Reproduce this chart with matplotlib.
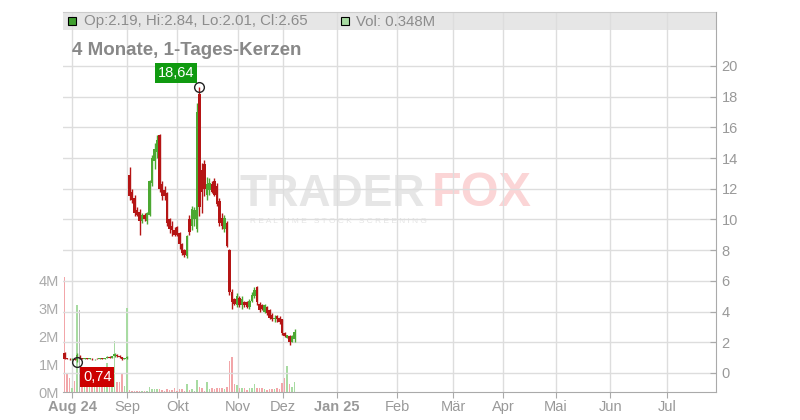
import matplotlib.pyplot as plt
from matplotlib.patches import Rectangle
import numpy as np

plt.rcParams['font.family'] = ['Liberation Sans', 'DejaVu Sans']

# daily candles, Aug 2024 - Dec 2024 (prices), volume in millions
opens = [1.30, 0.95, 0.93, 0.90, 0.92, 0.85, 1.00, 0.98, 0.94, 0.95, 0.92, 0.93, 0.90, 0.92, 0.90, 0.95,
         0.92, 0.98, 1.05, 1.00, 1.08, 1.20, 1.10, 1.02, 0.90, 0.97,
         12.9, 11.8, 11.4, 10.6, 10.5, 9.9, 10.3, 9.9, 10.3, 12.4, 13.8, 14.4, 15.5, 12.3, 11.9, 11.7,
         10.0, 9.6, 9.3, 9.5, 9.1, 8.4, 8.0, 7.6, 10.0, 9.6, 10.0, 9.4, 18.2, 13.2, 13.6, 11.6, 11.9,
         12.3, 12.5, 12.2, 11.2, 10.1, 9.4, 9.8, 8.0, 5.3, 4.8, 4.4, 4.9, 4.4, 4.6, 4.6, 4.3, 4.7, 5.0,
         5.6, 4.5, 4.4, 4.0, 4.3, 4.1, 3.8, 3.5, 3.7, 3.6, 3.5, 2.6, 2.3, 2.4, 2.05, 2.19]
highs = [1.39, 0.98, 0.96, 0.95, 0.94, 1.32, 1.20, 1.00, 0.97, 0.97, 0.95, 0.95, 0.94, 0.95, 0.96, 0.98,
         1.00, 1.08, 1.10, 1.12, 1.30, 1.22, 1.15, 1.05, 1.00, 1.10,
         13.4, 12.0, 11.6, 10.8, 10.7, 10.4, 10.4, 10.5, 12.6, 14.2, 15.0, 15.5, 15.6, 12.5, 12.2, 11.8,
         10.1, 9.9, 9.5, 9.6, 9.2, 8.5, 8.1, 9.0, 10.3, 10.9, 10.8, 17.6, 18.64, 13.7, 13.9, 12.8, 12.7,
         12.5, 12.7, 12.4, 11.4, 10.4, 10.3, 9.9, 8.1, 5.5, 4.9, 5.2, 5.0, 5.0, 4.7, 4.7, 4.8, 5.3, 5.6,
         5.7, 4.6, 4.5, 4.5, 4.35, 4.2, 3.9, 3.8, 3.8, 3.7, 3.55, 2.65, 2.5, 2.45, 2.5, 2.84]
lows = [0.88, 0.88, 0.86, 0.87, 0.85, 0.74, 0.88, 0.92, 0.90, 0.88, 0.88, 0.86, 0.87, 0.88, 0.88, 0.90,
        0.90, 0.95, 0.98, 0.97, 1.05, 1.05, 1.00, 0.85, 0.88, 0.93,
        11.3, 11.1, 10.2, 10.2, 9.0, 9.8, 9.9, 9.7, 10.2, 12.2, 13.3, 14.0, 11.8, 11.3, 11.3, 9.6,
        9.1, 8.9, 8.9, 8.9, 8.1, 7.7, 7.55, 7.5, 9.0, 9.3, 9.6, 9.2, 10.2, 10.4, 11.5, 11.3, 11.6,
        11.7, 11.5, 10.9, 9.6, 9.4, 9.2, 8.2, 5.1, 4.2, 4.4, 4.3, 4.3, 4.2, 4.3, 4.25, 4.2, 4.6, 4.9,
        4.4, 4.0, 4.1, 3.9, 3.8, 3.5, 3.4, 3.3, 3.3, 3.2, 2.5, 2.35, 2.25, 1.85, 2.0, 2.01]
closes = [0.92, 0.90, 0.88, 0.92, 0.87, 1.15, 1.00, 0.94, 0.95, 0.90, 0.93, 0.88, 0.92, 0.90, 0.95, 0.92,
          0.98, 1.05, 1.00, 1.08, 1.22, 1.08, 1.02, 0.88, 0.97, 1.05,
          11.5, 11.3, 10.4, 10.3, 9.9, 10.3, 10.0, 10.4, 12.5, 14.0, 14.6, 15.2, 12.0, 11.5, 11.5, 9.8,
          9.4, 9.3, 9.0, 9.0, 8.4, 7.8, 7.7, 8.9, 9.2, 10.7, 10.6, 17.0, 10.8, 11.8, 12.0, 12.3, 12.4,
          11.8, 11.6, 11.0, 9.8, 9.6, 10.1, 8.3, 5.3, 4.6, 4.5, 5.0, 4.4, 4.8, 4.4, 4.3, 4.7, 5.1, 5.4,
          4.6, 4.1, 4.2, 4.4, 3.9, 3.6, 3.5, 3.6, 3.5, 3.3, 2.6, 2.4, 2.45, 2.0, 2.4, 2.65]
volumes = [4.1, 0.68, 0.5, 0.15, 0.4, 3.1, 2.93, 0.45, 0.35, 0.3, 0.45, 0.3, 0.35, 0.25, 0.3, 0.4,
           0.3, 1.03, 0.45, 0.3, 1.82, 0.35, 0.35, 0.69, 0.2, 3.0,
           0.07, 0.05, 0.02, 0.03, 0.04, 0.02, 0.02, 0.02, 0.19, 0.12, 0.12, 0.12, 0.12, 0.08, 0.03, 0.12,
           0.08, 0.08, 0.15, 0.03, 0.12, 0.12, 0.03, 0.29, 0.08, 0.12, 0.05, 0.43, 0.19, 0.16, 0.05, 0.35,
           0.12, 0.15, 0.12, 0.15, 0.15, 0.16, 0.12, 0.19, 1.1, 1.26, 0.29, 0.26, 0.15, 0.15, 0.15, 0.08,
           0.15, 0.15, 0.29, 0.15, 0.16, 0.16, 0.12, 0.08, 0.12, 0.12, 0.12, 0.15, 0.12, 0.33, 0.51, 0.93,
           0.29, 0.19, 0.348]

month_labels = ['Aug 24', 'Sep', 'Okt', 'Nov', 'Dez', 'Jan 25', 'Feb', 'Mär', 'Apr', 'Mai', 'Jun', 'Jul']
month_pos = [3.1, 25.1, 45.1, 69.5, 87.5, 109, 133, 155.4, 175.4, 196.4, 218.4, 241]

o = np.array(opens)
h = np.array(highs)
l = np.array(lows)
c = np.array(closes)
v = np.array(volumes)
x = np.arange(len(c))

up = '#4ca832'
down = '#b51515'
cand_col = np.where(c > o, up, down)
vol_col = np.where(c > o, '#a8dba2', np.where(c < o, '#f2a6a9', '#b4b4b4'))

fig = plt.figure(figsize=(8, 4.2), dpi=100)
ax = fig.add_axes([63 / 800, 28 / 420, 653 / 800, 380 / 420])
ax.set_xlim(-0.6, 260.6)
ax.set_ylim(0, 380 / 28)
ax.set_axisbelow(True)

# legend band on top
ax.add_patch(Rectangle((0, 1 - 18 / 380), 1, 18 / 380, transform=ax.transAxes,
                       facecolor='#e6e6e6', edgecolor='none', zorder=0.1))

ax.bar(x, v, width=0.5, color=vol_col, zorder=1)
ax.grid(axis='x', color='#dddddd', lw=1)
ax.set_xticks(month_pos, month_labels)
ax.set_yticks([0, 1, 2, 3, 4], ['0M', '1M', '2M', '3M', '4M'])
ax.tick_params(axis='x', length=4, color='#aaaaaa', labelcolor='#999999', labelsize=10.5, pad=2)
ax.tick_params(axis='y', length=0, labelcolor='#aaaaaa', labelsize=10.5, pad=3)
for lbl in ax.get_xticklabels():
    if lbl.get_text() in ('Aug 24', 'Jan 25'):
        lbl.set_fontweight('bold')
ax.spines['left'].set_visible(False)
ax.spines['right'].set_visible(False)
ax.spines['top'].set_color('#cccccc')
ax.spines['bottom'].set_color('#aaaaaa')

# watermark
ax.text(240 / 800, 1 - 206 / 420, 'TRADER', transform=fig.transFigure, fontsize=32,
        fontweight='bold', color='#e6e6e6', zorder=0.2)
ax.text(432 / 800, 1 - 206 / 420, 'FOX', transform=fig.transFigure, fontsize=35,
        fontweight='bold', color='#fbd5d6', zorder=0.2)
ax.text(250 / 800, 1 - 223 / 420, 'R E A L T I M E   S T O C K   S C R E E N I N G',
        transform=fig.transFigure, fontsize=6, color='#e4e4e4', zorder=0.2)

ax2 = ax.twinx()
ax2.set_ylim(-19 / 15.35, 361 / 15.35)
ax2.set_axisbelow(True)
ax2.grid(axis='y', color='#dddddd', lw=1)
ax2.set_yticks(range(0, 21, 2))
ax2.tick_params(axis='y', direction='in', length=4, color='#aaaaaa', labelcolor='#999999',
                labelsize=10.5, pad=4)
for s in ('left', 'top', 'bottom'):
    ax2.spines[s].set_visible(False)
ax2.spines['right'].set_color('#aaaaaa')

ax2.vlines(x, l, h, colors=cand_col, lw=1, zorder=2)
body = np.maximum(np.abs(c - o), 0.04)
ax2.bar(x, body, bottom=np.minimum(o, c), width=0.85, color=cand_col, zorder=3)

# extreme markers
ih = int(np.argmax(h))
il = int(np.argmin(l))
ax2.plot([ih, il], [h[ih], l[il]], 'o', mfc='none', mec='#222222', ms=7, mew=1, zorder=4)
ax2.annotate(f'{h[ih]:.2f}'.replace('.', ','), (ih, h[ih]), xytext=(-5, 7),
             textcoords='offset pixels', ha='right', va='bottom', color='white', fontsize=10.5,
             bbox=dict(boxstyle='square,pad=0.2', fc='#109a10', ec='none'), zorder=5)
ax2.annotate(f'{l[il]:.2f}'.replace('.', ','), (il, l[il]), xytext=(6, -8),
             textcoords='offset pixels', ha='left', va='top', color='white', fontsize=10.5,
             bbox=dict(boxstyle='square,pad=0.2', fc='#cc0000', ec='none'), zorder=5)

# header texts
fig.add_artist(Rectangle((68 / 800, 1 - 25 / 420), 8 / 800, 8 / 420, transform=fig.transFigure,
                         facecolor='#3f9f2f', edgecolor='black', lw=0.8))
fig.text(84 / 800, 1 - 25.5 / 420,
         f'Op:{o[-1]:.2f}, Hi:{h[-1]:.2f}, Lo:{l[-1]:.2f}, Cl:{c[-1]:.2f}',
         fontsize=10.8, color='#8c8c8c', va='baseline')
fig.add_artist(Rectangle((341 / 800, 1 - 25 / 420), 8 / 800, 8 / 420, transform=fig.transFigure,
                         facecolor='#a8dba2', edgecolor='black', lw=0.8))
fig.text(356 / 800, 1 - 25.5 / 420, f'Vol: {v[-1]:.3f}M', fontsize=10.8, color='#8c8c8c',
         va='baseline')
fig.text(72 / 800, 1 - 55 / 420, '4 Monate, 1-Tages-Kerzen', fontsize=13.5, fontweight='bold',
         color='#888888', va='baseline')

fig.savefig('out.png', dpi=100)
